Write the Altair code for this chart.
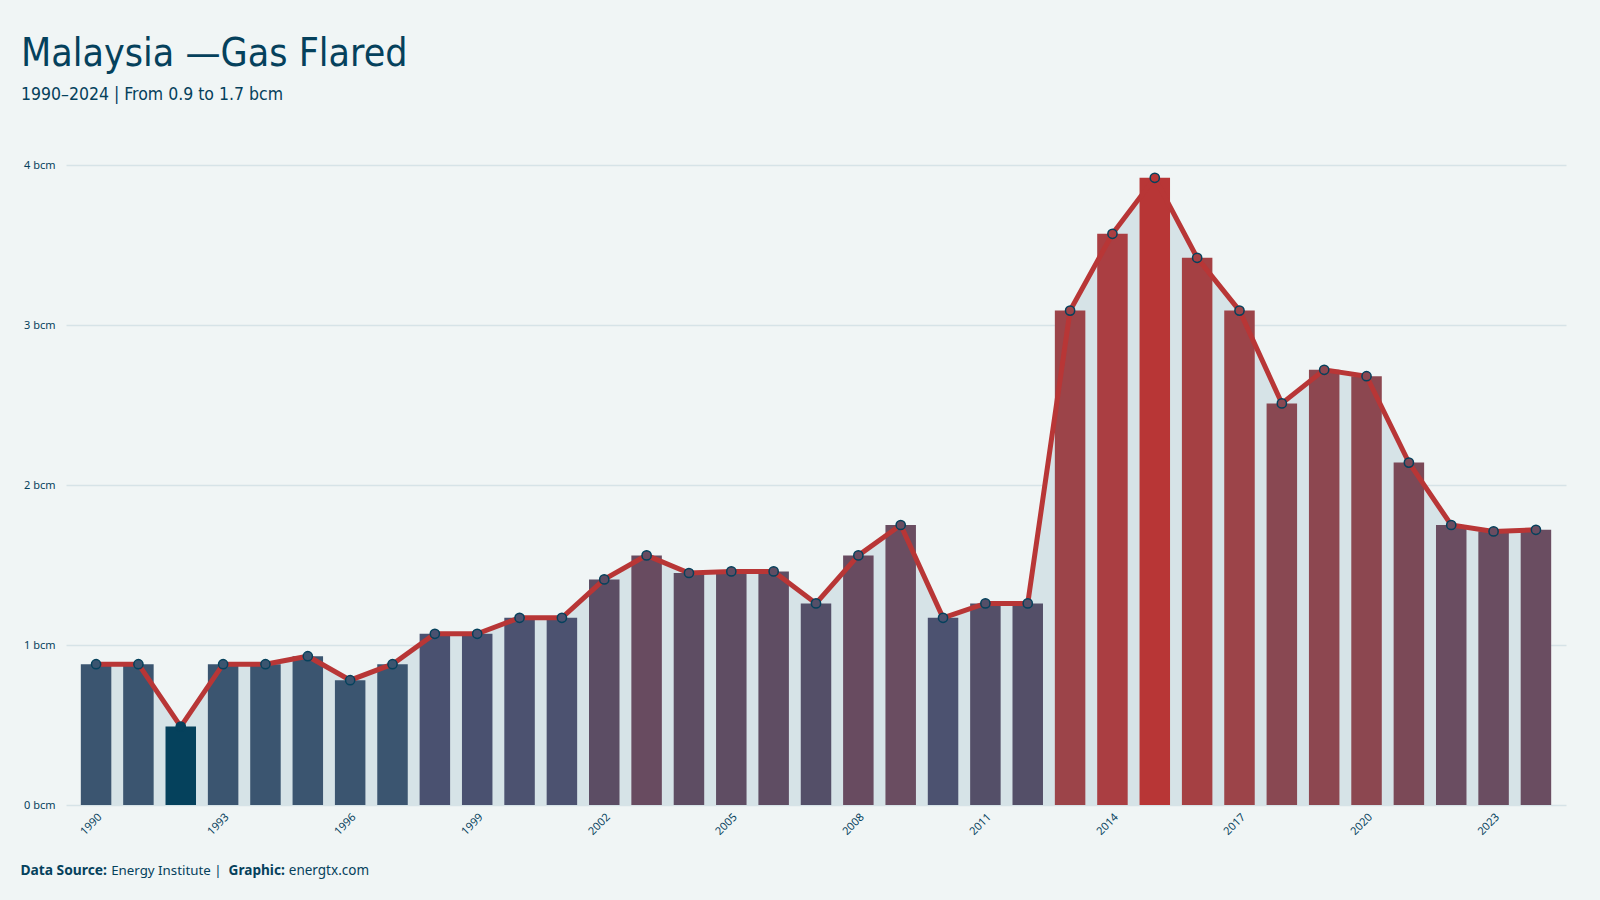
import altair as alt
import pandas as pd

years = list(range(1990, 2025))
values = [0.88, 0.88, 0.49, 0.88, 0.88, 0.93, 0.78, 0.88, 1.07, 1.07,
          1.17, 1.17, 1.41, 1.56, 1.45, 1.46, 1.46, 1.26, 1.56, 1.75,
          1.17, 1.26, 1.26, 3.09, 3.57, 3.92, 3.42, 3.09, 2.51, 2.72,
          2.68, 2.14, 1.75, 1.71, 1.72]
tick_years = [1990, 1993, 1996, 1999, 2002, 2005, 2008, 2011, 2014, 2017, 2020, 2023]
y_ticks = [0, 1, 2, 3, 4]

title_text = "Malaysia  \u2014Gas Flared"
subtitle_text = "1990\u20132024 | From 0.9 to 1.7 bcm"

df = pd.DataFrame({"year": years, "value": values})

DARK = "#05415c"
RED = "#b83636"
BG = "#f0f5f5"
AREA = "#d6e3e7"
TITLE_FONT = "DejaVu Sans Condensed, DejaVu Sans, sans-serif"
BODY_FONT = "Noto Sans, Open Sans, sans-serif"

color_scale = alt.Scale(
    domain=[0.49, 0.50, 0.93, 1.07, 1.17, 1.26, 1.41, 1.46, 1.56, 1.75,
            2.14, 2.51, 2.72, 3.09, 3.42, 3.57, 3.90, 3.92],
    range=["#05415c", "#3a5570", "#3b5570", "#4a5170", "#4c5270", "#544f68",
           "#5c4d64", "#5f4d63", "#684b60", "#6a4d61", "#7b4957", "#894852",
           "#8d4750", "#9c4449", "#a54043", "#aa3e42", "#ad3c40", "#b83636"],
    interpolate="rgb",
)

x_enc = alt.X(
    "year:O",
    scale=alt.Scale(paddingInner=0.28, paddingOuter=0.35),
    axis=alt.Axis(
        values=tick_years, labelAngle=-45, title=None, ticks=False, domain=False,
        labelFont=BODY_FONT, labelFontSize=11, labelColor=DARK, labelPadding=6,
        grid=False,
    ),
)
y_enc = alt.Y(
    "value:Q",
    scale=alt.Scale(domain=[0, 4]),
    axis=alt.Axis(
        values=y_ticks, labelExpr="datum.value + ' bcm'", title=None,
        ticks=False, domain=False, labelFont=BODY_FONT, labelFontSize=11,
        labelColor=DARK, labelPadding=11, gridColor=AREA, gridWidth=1.5,
    ),
)

base = alt.Chart(df)

area = base.mark_area(color=AREA, opacity=1).encode(x=x_enc, y=y_enc)
bars = base.mark_bar().encode(
    x=x_enc, y=y_enc,
    color=alt.Color("value:Q", scale=color_scale, legend=None),
)
line = base.mark_line(color=RED, strokeWidth=5).encode(x=x_enc, y=y_enc)
points = base.mark_point(filled=True, size=85, stroke=DARK, strokeWidth=1.5, opacity=1).encode(
    x=x_enc, y=y_enc,
    fill=alt.Fill("value:Q", scale=color_scale, legend=None),
)

def txt(s, x, y, size, font, weight="normal"):
    return alt.Chart(pd.DataFrame({"t": [s]})).mark_text(
        align="left", baseline="alphabetic", font=font, fontSize=size,
        fontWeight=weight, color=DARK,
    ).encode(text="t:N", x=alt.value(x), y=alt.value(y))

title = txt(title_text, -45, -99, 39, TITLE_FONT)
subtitle = txt(subtitle_text, -45, -65, 17.5, TITLE_FONT)
f1 = txt("Data Source:", -45.6, 710, 13.8, BODY_FONT, "bold")
f2 = txt("Energy Institute |", 45.2, 710, 13.3, BODY_FONT)
f3 = txt("Graphic:", 162.6, 710, 13.6, BODY_FONT, "bold")
f4 = txt("energtx.com", 222.8, 710, 13.5, BODY_FONT)

chart = alt.layer(area, bars, line, points, title, subtitle, f1, f2, f3, f4).properties(
    width=1500, height=640,
    autosize=alt.AutoSizeParams(type="none"),
    padding={"left": 66, "top": 165, "right": 34, "bottom": 95},
    background=BG,
).configure_view(stroke=None)

chart.save("out.html", embed_options={"renderer": "svg", "actions": False})
